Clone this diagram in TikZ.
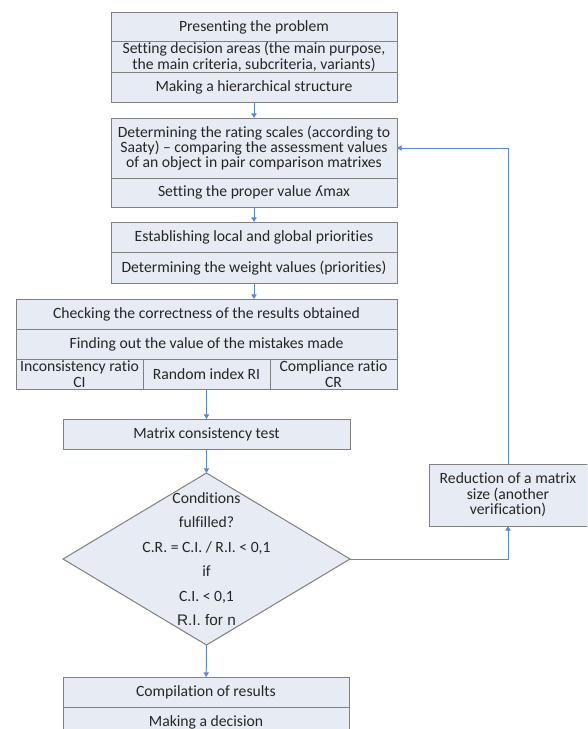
\documentclass[tikz,border=0pt]{standalone}
\usepackage{fontspec}
\setmainfont{Carlito}[Ligatures=NoCommon]
\newfontfamily\arialfont{Liberation Sans}
\newfontfamily\symbfont{DejaVu Sans}
\usepackage{tikz}
\usetikzlibrary{arrows.meta,shapes.geometric}
\definecolor{boxfill}{RGB}{231,235,243}
\definecolor{boxline}{RGB}{128,128,128}
\definecolor{flowblue}{RGB}{91,137,196}
\definecolor{textgray}{RGB}{38,38,38}

\begin{document}
\begin{tikzpicture}[x=0.75pt,y=-0.75pt,
    row/.style={rectangle,draw=boxline,fill=boxfill,line width=0.75pt,
      inner sep=0pt,outer sep=0pt,align=center,text=textgray,
      font=\fontsize{11.75}{12.5}\selectfont},
    wide/.style={row,minimum width=214.5pt,minimum height=22.5pt},
    flow/.style={draw=flowblue,line width=0.75pt}]
    \useasboundingbox (0,0) rectangle (587,729);
    \clip (0,0) rectangle (587,729);

    \begin{scope}[every node/.style={wide}]
      \node (A1) at (254,27) {Presenting the problem};
      \node (A2) at (254,57) {Setting decision areas (the main purpose,\\the main criteria, subcriteria, variants)};
      \node (A3) at (254,87) {Making a hierarchical structure};

      \node[minimum height=45pt,font=\fontsize{11.75}{11.25}\selectfont] (B1) at (254,148)
           {Determining the rating scales (according to\\Saaty) -- comparing the assessment values\\of an object in pair comparison matrixes};
      \node[minimum height=21.75pt] (B2) at (254,192.5) {Setting the proper value {\symbfont\fontsize{10.5}{12}\selectfont ʎ}max};

      \node[minimum height=22.875pt] (C1) at (254,237.25) {Establishing local and global priorities};
      \node[minimum height=22.875pt] (C2) at (254,267.75) {Determining the weight values (priorities)};

      \node[minimum width=285.75pt] (D1) at (206.5,314) {Checking the correctness of the results obtained};
      \node[minimum width=285.75pt] (D2) at (206.5,344) {Finding out the value of the mistakes made};
      \node[minimum width=95.25pt,font=\fontsize{11.75}{12}\selectfont] (D3) at (79.5,374) {Inconsistency ratio\\CI};
      \node[minimum width=95.25pt] (D4) at (206.5,374) {Random index RI};
      \node[minimum width=95.25pt,font=\fontsize{11.75}{12}\selectfont] (D5) at (333.5,374) {Compliance ratio\\CR};

      \node[minimum width=215.25pt] (E) at (206.5,434) {Matrix consistency test};

      \node[shape=diamond,minimum width=215.25pt,minimum height=129pt] (F) at (206.5,559) {};

      \node (G1) at (206,692) {Compilation of results};
      \node (G2) at (206,722) {Making a decision};

      \node[minimum width=118.5pt,minimum height=46.5pt,font=\fontsize{11.75}{11.6}\selectfont] (H) at (508,495)
           {Reduction of a matrix\\size (another\\verification)};
    \end{scope}

    % text of the decision
    \node[align=center,inner sep=0pt,text=textgray,font=\fontsize{11.75}{18.4}\selectfont] (FT) at (F.center)
         {Conditions\\fulfilled?\\C.R. = C.I. / R.I. {\textless} 0,1\\if\\C.I. {\textless} 0,1\\{\arialfont\fontsize{11.5}{18.4}\selectfont R.I. for n}};

    \begin{scope}[>={Triangle[width=4pt,length=3.5pt]},
        every edge/.style={flow}]
      \path [->] (A3) edge (B1);
      \path [->] (B2) edge (C1);
      \path [->] (C2.south) edge (C2.south |- D1.north);
      \path [->] (D4) edge (E);
      \path [->] (E) edge (F.north);
      \path [->] (F.south) edge (G1);
      \draw [flow,->] (F.east) -| (H.south);
      \draw [flow,->] (H.north) |- (B1.east);
    \end{scope}
  \end{tikzpicture}
\end{document}
